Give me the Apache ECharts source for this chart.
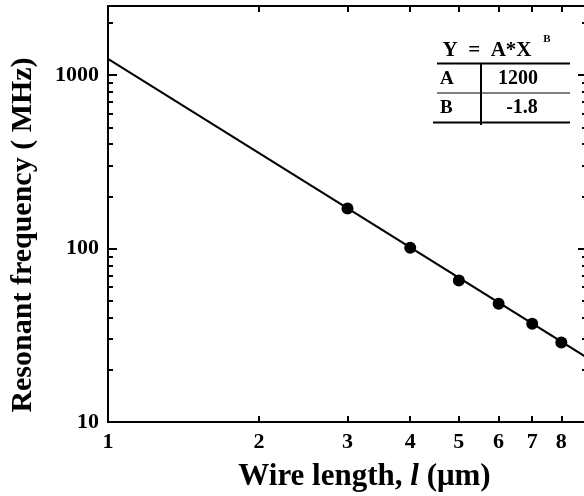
<!DOCTYPE html>
<html>
<head>
<meta charset="utf-8">
<script src="https://cdn.jsdelivr.net/npm/echarts@6/dist/echarts.min.js"></script>
<style>
	html, body { margin: 0; padding: 0; background: #fff; overflow: hidden; }
	#chart { width: 584px; height: 496px; }
</style>
</head>
<body>
<div id="chart"></div>
<script>
// -------------------------
// Resonant frequency vs wire length (log-log)
// -------------------------

// Measured points
const wireLength = [3, 4, 5, 6, 7, 8];
const frequency = [170, 101, 65.5, 48, 36.8, 28.7];

// Fit line Y = A*X^B, end points
const fitA = 1200;
const fitB = -1.8;
const fitX = [1, 9];
const fitY = [1240, 23.5];

// Ticks
const xTicks = [1, 2, 3, 4, 5, 6, 7, 8];
const yMajor = [10, 100, 1000];
const yMinor = [20, 30, 40, 50, 60, 70, 80, 90, 200, 300, 400, 500, 600, 700, 800, 900, 2000];

const FONT = "'Liberation Serif', 'Times New Roman', serif";
const black = '#000';

// ----------------------
// Axis helpers
// ----------------------
function xAxisDef(position, withLabels) {
	return {
		type: 'log', logBase: 10, min: 1, max: 9,
		position: position,
		axisLine: { show: true, lineStyle: { color: black, width: 2 } },
		axisTick: { show: true, inside: true, length: 6, customValues: xTicks, lineStyle: { color: black, width: 2 } },
		axisLabel: {
			show: withLabels, customValues: xTicks, margin: 9,
			color: black, fontFamily: FONT, fontWeight: 'bold', fontSize: 22,
			formatter: v => String(Math.round(v))
		},
		minorTick: { show: false },
		splitLine: { show: false },
		name: withLabels ? 'Wire length, {i|l} (\u03bcm)' : '',
		nameLocation: 'middle',
		nameGap: 39,
		nameTextStyle: {
			color: black, fontFamily: FONT, fontWeight: 'bold', fontSize: 31,
			padding: [0, 0, 0, 34],
			rich: { i: { fontStyle: 'italic', fontWeight: 'bold', fontFamily: FONT, fontSize: 31, color: black } }
		}
	};
}

function yAxisDef(position, ticks, len, withLine, withLabels) {
	return {
		type: 'log', logBase: 10, min: 10, max: 2500,
		position: position,
		axisLine: { show: withLine, lineStyle: { color: black, width: 2 } },
		axisTick: { show: true, inside: true, length: len, customValues: ticks, lineStyle: { color: black, width: 2 } },
		axisLabel: {
			show: withLabels, customValues: ticks, margin: 9,
			color: black, fontFamily: FONT, fontWeight: 'bold', fontSize: 22,
			formatter: v => String(Math.round(v))
		},
		minorTick: { show: false },
		splitLine: { show: false },
		name: withLabels ? 'Resonant frequency ( MHz)' : '',
		nameLocation: 'middle',
		nameGap: 70,
		nameTextStyle: {
			color: black, fontFamily: FONT, fontWeight: 'bold', fontSize: 30,
			padding: [0, 42, 0, 0]
		}
	};
}

// ----------------------
// Fit table (top right)
// ----------------------
function tableGraphics() {
	const bold = size => `bold ${size}px ${FONT}`;
	const hLine = (x1, x2, y, w) => ({ type: 'line', shape: { x1: x1, y1: y, x2: x2, y2: y }, style: { stroke: black, lineWidth: w } });
	const txt = (s, x, y, size, align) => ({
		type: 'text',
		style: { text: s, x: x, y: y, font: bold(size), fill: black, textAlign: align || 'center', textVerticalAlign: 'middle' }
	});
	return [
		txt('Y  =  A*X', 487, 51, 21),
		txt('B', 547, 39, 11),
		hLine(437, 570, 63.5, 2),
		hLine(437, 570, 93, 1),
		hLine(433, 570, 122.5, 2),
		{ type: 'line', shape: { x1: 481, y1: 63, x2: 481, y2: 125 }, style: { stroke: black, lineWidth: 2 } },
		txt('A', 440, 79, 19, 'left'),
		txt(String(fitA), 518, 79, 20),
		txt('B', 440, 108, 19, 'left'),
		txt(String(fitB), 522, 108, 20)
	];
}

// ----------------------
// Chart
// ----------------------
const chart = echarts.init(document.getElementById('chart'), null, { renderer: 'canvas' });

const option = {
	backgroundColor: '#fff',
	animation: false,
	grid: { left: 108, right: -3, top: 6, bottom: 74, containLabel: false, outerBoundsMode: 'none' },
	xAxis: [xAxisDef('bottom', true), xAxisDef('top', false)],
	yAxis: [
		yAxisDef('left', yMajor, 9, true, true),
		yAxisDef('left', yMinor, 5, false, false),
		yAxisDef('right', yMajor, 9, true, false),
		yAxisDef('right', yMinor, 5, false, false)
	],
	series: [
		{
			name: 'Fit',
			type: 'line',
			xAxisIndex: 0, yAxisIndex: 0,
			showSymbol: false,
			symbol: 'none',
			lineStyle: { color: black, width: 2 },
			data: fitX.map((x, i) => [x, fitY[i]])
		},
		{
			name: 'Measured',
			type: 'scatter',
			xAxisIndex: 0, yAxisIndex: 0,
			symbol: 'circle',
			symbolSize: 12,
			itemStyle: { color: black, opacity: 1 },
			data: wireLength.map((x, i) => [x, frequency[i]])
		}
	],
	graphic: tableGraphics()
};

chart.setOption(option);
</script>
</body>
</html>
